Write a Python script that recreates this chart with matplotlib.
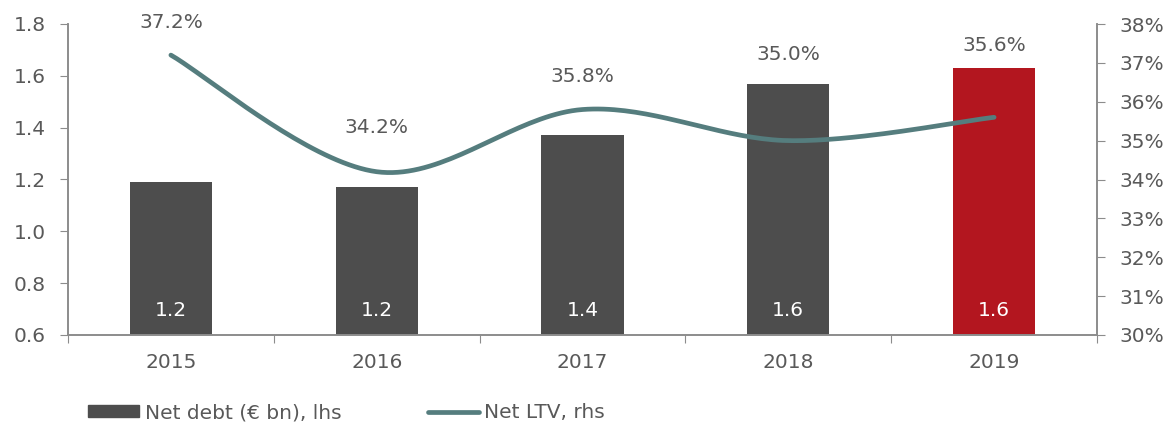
import numpy as np
import matplotlib
matplotlib.use("Agg")
import matplotlib.pyplot as plt
from matplotlib.patches import Patch
from matplotlib.lines import Line2D

years = ["2015", "2016", "2017", "2018", "2019"]
net_debt = [1.19, 1.17, 1.37, 1.57, 1.63]
debt_labels = ["1.2", "1.2", "1.4", "1.6", "1.6"]
net_ltv = [37.2, 34.2, 35.8, 35.0, 35.6]

GREY = "#4d4d4d"
RED = "#b3161f"
TEAL = "#557d7e"
TXT = "#595959"
AXC = "#8c8c8c"
FS = 14.5

plt.rcParams["font.family"] = ["DejaVu Sans"]

fig = plt.figure(figsize=(11.69, 4.25), dpi=100)
ax = fig.add_axes([68 / 1169, 90 / 425, 1029 / 1169, 311 / 425])
ax2 = ax.twinx()

x = np.arange(len(years))
colors = [GREY] * (len(years) - 1) + [RED]
ax.bar(x, net_debt, width=0.40, color=colors, zorder=2)
for xi, lab in zip(x, debt_labels):
    ax.text(xi, 0.6 + 24 / 259, lab, color="white", ha="center", va="center",
            fontsize=FS, zorder=3)

ax.set_ylim(0.6, 1.8)
ax.set_xlim(-0.5, len(years) - 0.5)
ax.set_yticks(np.arange(0.6, 1.81, 0.2))
ax.set_yticklabels([f"{v:.1f}" for v in np.arange(0.6, 1.81, 0.2)])
ax.set_xticks(np.arange(-0.5, len(years), 1.0))
ax.set_xticklabels([])
ax.set_xticks(x, minor=True)
ax.set_xticklabels(years, minor=True)
ax.tick_params(axis="x", which="major", length=6, color=AXC, direction="out")
ax.tick_params(axis="x", which="minor", length=0, pad=13, labelsize=FS, labelcolor=TXT)
ax.tick_params(axis="y", length=6, color=AXC, pad=10, labelsize=FS, labelcolor=TXT)

# Excel-like smoothed line (bezier through the points)
px = x.astype(float)
py = np.array(net_ltv, dtype=float)
cx, cy = [], []
n = len(px)
t = np.linspace(0, 1, 40)
for i in range(n - 1):
    p0 = np.array([px[max(i - 1, 0)], py[max(i - 1, 0)]])
    p1 = np.array([px[i], py[i]])
    p2 = np.array([px[i + 1], py[i + 1]])
    p3 = np.array([px[min(i + 2, n - 1)], py[min(i + 2, n - 1)]])
    c1 = p1 + (p2 - p0) / 6
    c2 = p2 - (p3 - p1) / 6
    seg = ((1 - t) ** 3)[:, None] * p1 + (3 * (1 - t) ** 2 * t)[:, None] * c1 \
        + (3 * (1 - t) * t ** 2)[:, None] * c2 + (t ** 3)[:, None] * p2
    cx.extend(seg[:, 0])
    cy.extend(seg[:, 1])
ax2.plot(cx, cy, color=TEAL, lw=3.4, solid_capstyle="round", zorder=4)
ax2.set_ylim(30, 38)
ax2.set_yticks(range(30, 39))
ax2.set_yticklabels([f"{v}%" for v in range(30, 39)])
ax2.tick_params(axis="y", length=6, color=AXC, pad=10, labelsize=FS, labelcolor=TXT)

label_offsets = [33, 44, 33, 86, 72]
for xi, v, off in zip(x, net_ltv, label_offsets):
    ax2.annotate(f"{v:.1f}%", (xi, v), xytext=(0, off), textcoords="offset pixels",
                 ha="center", va="center", fontsize=FS, color=TXT)

for a in (ax, ax2):
    a.spines["top"].set_visible(False)
    for s in ("left", "right", "bottom"):
        a.spines[s].set_color(AXC)
        a.spines[s].set_linewidth(1.2)
ax.set_zorder(ax2.get_zorder() - 1)
ax2.patch.set_visible(False)
ax.patch.set_visible(False)

handles = [Patch(color=GREY, label="Net debt (€ bn), lhs"),
           Line2D([], [], color=TEAL, lw=3.4, solid_capstyle="round", label="Net LTV, rhs")]
fig.legend(handles=handles, loc="center left", bbox_to_anchor=(70 / 1169, 12 / 425),
           ncol=2, frameon=False, fontsize=FS, labelcolor=TXT, handlelength=2.55,
           handleheight=0.55, handletextpad=0.25, columnspacing=4.3)

fig.savefig("out.png", dpi=100)
